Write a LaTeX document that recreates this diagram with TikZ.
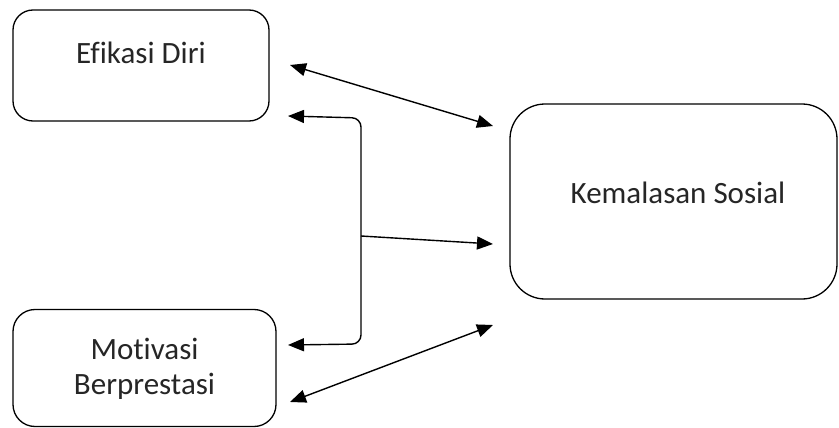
\documentclass[tikz,border=0pt]{standalone}
\usepackage{fontspec}
\setmainfont[Ligatures=NoCommon]{Carlito}
\usetikzlibrary{arrows.meta}
\begin{document}
\begin{tikzpicture}[x=1pt,y=-1pt,
  box/.style={draw, line width=1.3pt, rounded corners=#1, inner sep=0pt},
  lbl/.style={font=\fontsize{31}{35}\selectfont, align=center, text=black!85},
  conn/.style={line width=1.4pt, {Triangle[length=16pt,width=13pt]}-{Triangle[length=16pt,width=13pt]}},
  oneway/.style={line width=1.4pt, -{Triangle[length=16pt,width=13pt]}}]
\useasboundingbox (0,0) rectangle (839,428);
\fill[white] (0,0) rectangle (839,428);
\node (ed) [box=20pt, minimum width=256pt, minimum height=111pt] at (141,65.5) {};
\node (edl) [lbl] at (141,53) {Efikasi Diri};
\node (mb) [box=22pt, minimum width=263pt, minimum height=117pt] at (144.5,368) {};
\node (mbl) [lbl] at (144.5,369) {Motivasi\\Berprestasi};
\node (ks) [box=35pt, minimum width=327pt, minimum height=195pt] at (673.5,201.5) {};
\node (ksl) [lbl] at (678,193) {Kemalasan Sosial};
\coordinate (a1s) at (290,65);
\coordinate (a1e) at (493,126);
\coordinate (bt) at (288,116);
\coordinate (bb) at (288,345);
\coordinate (bj) at (361,236);
\coordinate (bm) at (493,244);
\coordinate (a3s) at (290,402);
\coordinate (a3e) at (493,325);
\draw[conn] (a1s) -- (a1e);
\draw[conn, rounded corners=9pt] (bt) -- (361,118) -- (361,344) -- (bb);
\draw[oneway] (bj) -- (bm);
\draw[conn] (a3s) -- (a3e);
\end{tikzpicture}
\end{document}
